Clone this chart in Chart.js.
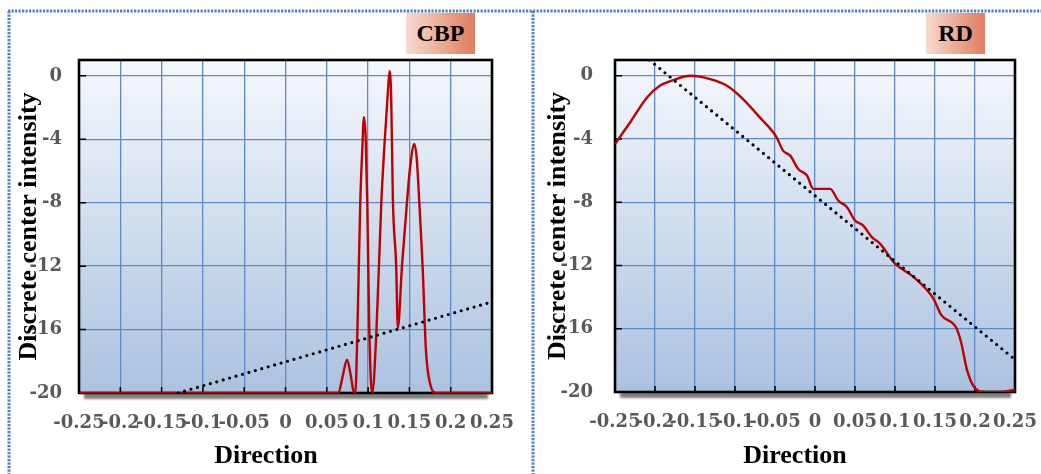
<!DOCTYPE html>
<html>
<head>
<meta charset="utf-8">
<script src="https://cdn.jsdelivr.net/npm/chart.js@4.4.0/dist/chart.umd.min.js"></script>
<style>
  body { margin: 0; background: #fff; }
  #wrap { position: relative; width: 1041px; height: 474px; overflow: hidden; }
  #wrap canvas { position: absolute; top: 0; }
  .tag {
    position: absolute; top: 13px; height: 41px;
    background: linear-gradient(to right, #f7dcd0, #df7d5c);
    font: bold 24px "Liberation Serif", serif; color: #000;
    display: flex; align-items: center; justify-content: center;
  }
</style>
</head>
<body>
<div id="wrap">
  <canvas id="frame" width="1041" height="474" style="left:0"></canvas>
  <canvas id="Grafica1" width="530" height="474" style="left:0"></canvas>
  <canvas id="Grafica2" width="511" height="474" style="left:530px"></canvas>
  <div class="tag" style="left:406px;width:69px">CBP</div>
  <div class="tag" style="left:926px;width:59px">RD</div>
</div>
<script>
// ticks
const xTicks = [-0.25, -0.2, -0.15, -0.1, -0.05, 0, 0.05, 0.1, 0.15, 0.2, 0.25];
const yTicks = [0, -4, -8, -12, -16, -20];

// CBP panel
const cbpX = [-0.25, 0.05, 0.064, 0.069, 0.0745, 0.079, 0.083, 0.0845, 0.087, 0.0905, 0.093, 0.095, 0.097,
              0.099, 0.1015, 0.105, 0.110, 0.116, 0.1195, 0.1237, 0.126, 0.128, 0.130, 0.134, 0.136,
              0.141, 0.147, 0.151, 0.156, 0.159, 0.162, 0.166, 0.170, 0.175, 0.183, 0.25];
const cbpY = [-20, -20, -20, -19, -17.9, -18.9, -20, -20, -16.2, -8, -4.6, -2.6, -3.8,
              -8, -16.2, -20, -16.2, -8, -4.6, -1.2, 0.3, -1.5, -7.8, -12, -15.9,
              -12, -8, -5.7, -4.3, -5.3, -8, -12, -17.3, -19.4, -20, -20];
const cbpTrendX = [-0.13, 0.25];
const cbpTrendY = [-20, -14.25];

// RD panel
const rdX = [-0.25, -0.231, -0.21, -0.194, -0.177, -0.156, -0.131, -0.11, -0.09, -0.069, -0.048, -0.04,
             -0.031, -0.021, -0.01, -0.002, 0.019, 0.029, 0.04, 0.05, 0.06, 0.071, 0.081, 0.1, 0.123,
             0.148, 0.158, 0.177, 0.183, 0.19, 0.2, 0.21, 0.231, 0.25];
const rdY = [-4.31, -2.94, -1.37, -0.63, -0.27, 0, -0.21, -0.63, -1.47, -2.63, -3.89, -4.73,
             -5.05, -5.89, -6.31, -7.15, -7.15, -7.89, -8.31, -9.15, -9.46, -10.2, -10.6, -11.88, -12.72,
             -14.09, -15.14, -15.98, -16.93, -18.6, -19.77, -19.98, -20, -19.87];
const rdTrendX = [-0.207, 0.25];
const rdTrendY = [1, -17.95];

function toPoints(xs, ys){
    let pts = [];
    for (let i=0; i<xs.length; i++){ pts.push({'x':xs[i],'y':ys[i]}); }
    return pts;
}

// blue dotted frame round the two panels
function drawFrame(){
    let ctx = document.getElementById('frame').getContext('2d');
    ctx.strokeStyle = '#4f81c4';
    ctx.lineWidth = 3;
    ctx.setLineDash([2.2, 1.3]);
    ctx.beginPath();
    ctx.moveTo(8, 11); ctx.lineTo(1041, 11);
    ctx.moveTo(9, 11); ctx.lineTo(9, 474);
    ctx.moveTo(533, 11); ctx.lineTo(533, 474);
    ctx.stroke();
}

const panelDecor = {
    id: 'panelDecor',
    beforeDraw(chart){
        const ctx = chart.ctx, a = chart.chartArea;
        ctx.save();
        ctx.fillStyle = 'rgba(105,105,105,0.85)';
        ctx.filter = 'blur(1px)';
        ctx.fillRect(a.left + 5, a.bottom, a.right - a.left - 9, 6);
        ctx.filter = 'none';
        const g = ctx.createLinearGradient(0, a.top, 0, a.bottom);
        g.addColorStop(0, '#f5f8fc');
        g.addColorStop(1, '#abc2df');
        ctx.fillStyle = g;
        ctx.fillRect(a.left, a.top, a.right - a.left, a.bottom - a.top);
        ctx.restore();
    },
    beforeDatasetsDraw(chart){
        const ctx = chart.ctx, a = chart.chartArea;
        const xs = chart.scales.x, ys = chart.scales.y;
        ctx.save();
        ctx.strokeStyle = '#000';
        ctx.lineWidth = 1.5;
        ctx.beginPath();
        yTicks.forEach(v => { let p = ys.getPixelForValue(v); ctx.moveTo(a.left, p); ctx.lineTo(a.left + 7, p); });
        xTicks.forEach(v => { let p = xs.getPixelForValue(v); ctx.moveTo(p, a.bottom); ctx.lineTo(p, a.bottom - 6); });
        ctx.stroke();
        ctx.lineWidth = 2.6;
        ctx.strokeRect(a.left, a.top, a.right - a.left, a.bottom - a.top);
        ctx.restore();
    },
    afterDraw(chart, args, opts){
        const ctx = chart.ctx, a = chart.chartArea;
        ctx.save();
        ctx.fillStyle = '#000';
        ctx.font = 'bold 26px "Liberation Serif"';
        ctx.textAlign = 'center';
        ctx.textBaseline = 'alphabetic';
        ctx.fillText(opts.xTitle, opts.xTitleX, 463);
        ctx.translate(opts.yTitleX, (a.top + a.bottom) / 2);
        ctx.rotate(-Math.PI / 2);
        ctx.textBaseline = 'middle';
        ctx.fillText(opts.yTitle, 0, 0);
        ctx.restore();
    }
};

function makeChart(id, curveX, curveY, trendX, trendY, geo){
    let config = {
        'type': 'line',
        'data': {
            'datasets': [
                {
                    'data': toPoints(trendX, trendY),
                    'borderColor': '#000',
                    'borderWidth': 3.2,
                    'borderDash': [0, 6.7],
                    'borderCapStyle': 'round',
                    'pointRadius': 0,
                    'fill': false
                },
                {
                    'data': toPoints(curveX, curveY),
                    'borderColor': '#c00000',
                    'borderWidth': 2.4,
                    'cubicInterpolationMode': 'monotone',
                    'pointRadius': 0,
                    'fill': false
                }
            ]
        },
        'options': {
            'responsive': false,
            'animation': false,
            'layout': {'padding': {'top': 60, 'right': geo.right, 'left': 0, 'bottom': 0}},
            'plugins': {
                'legend': {'display': false},
                'tooltip': {'enabled': false},
                'panelDecor': {
                    'xTitle': 'Direction',
                    'yTitle': 'Discrete center intensity',
                    'xTitleX': geo.xTitleX,
                    'yTitleX': geo.yTitleX
                }
            },
            'scales': {
                'x': {
                    'type': 'linear',
                    'min': -0.25, 'max': 0.25,
                    'afterBuildTicks': s => { s.ticks = xTicks.map(v => ({'value': v})); },
                    // fixed height, and no extra side room for the end labels
                    'afterFit': s => { s.height = geo.xAxisH; s.paddingLeft = 0; s.paddingRight = 0; },
                    'grid': {'color': '#5b8bc8', 'lineWidth': 1.3, 'drawTicks': false},
                    'border': {'display': false},
                    'ticks': {
                        'autoSkip': false, 'maxRotation': 0, 'minRotation': 0,
                        'padding': 20,
                        'color': '#595959',
                        'font': {'family': 'DejaVu Serif', 'weight': 'bold', 'size': 18},
                        'callback': v => String(v)
                    }
                },
                'y': {
                    'min': -20, 'max': 1,
                    'afterBuildTicks': s => { s.ticks = yTicks.map(v => ({'value': v})); },
                    'afterFit': s => { s.width = geo.yAxisW; s.paddingTop = 0; s.paddingBottom = 0; },
                    'grid': {'color': '#5b8bc8', 'lineWidth': 1.3, 'drawTicks': false},
                    'border': {'display': false},
                    'ticks': {
                        'padding': geo.yPad,
                        'color': '#595959',
                        'font': {'family': 'DejaVu Serif', 'weight': 'bold', 'size': 18},
                        'callback': v => String(v)
                    }
                }
            }
        },
        'plugins': [panelDecor]
    };
    return new Chart(document.getElementById(id).getContext('2d'), config);
}

drawFrame();
makeChart('Grafica1', cbpX, cbpY, cbpTrendX, cbpTrendY,
          {'right': 38, 'yAxisW': 79, 'xAxisH': 81, 'yPad': 17, 'xTitleX': 266, 'yTitleX': 29});
makeChart('Grafica2', rdX, rdY, rdTrendX, rdTrendY,
          {'right': 26, 'yAxisW': 85, 'xAxisH': 82, 'yPad': 22, 'xTitleX': 265, 'yTitleX': 28});
</script>
</body>
</html>
